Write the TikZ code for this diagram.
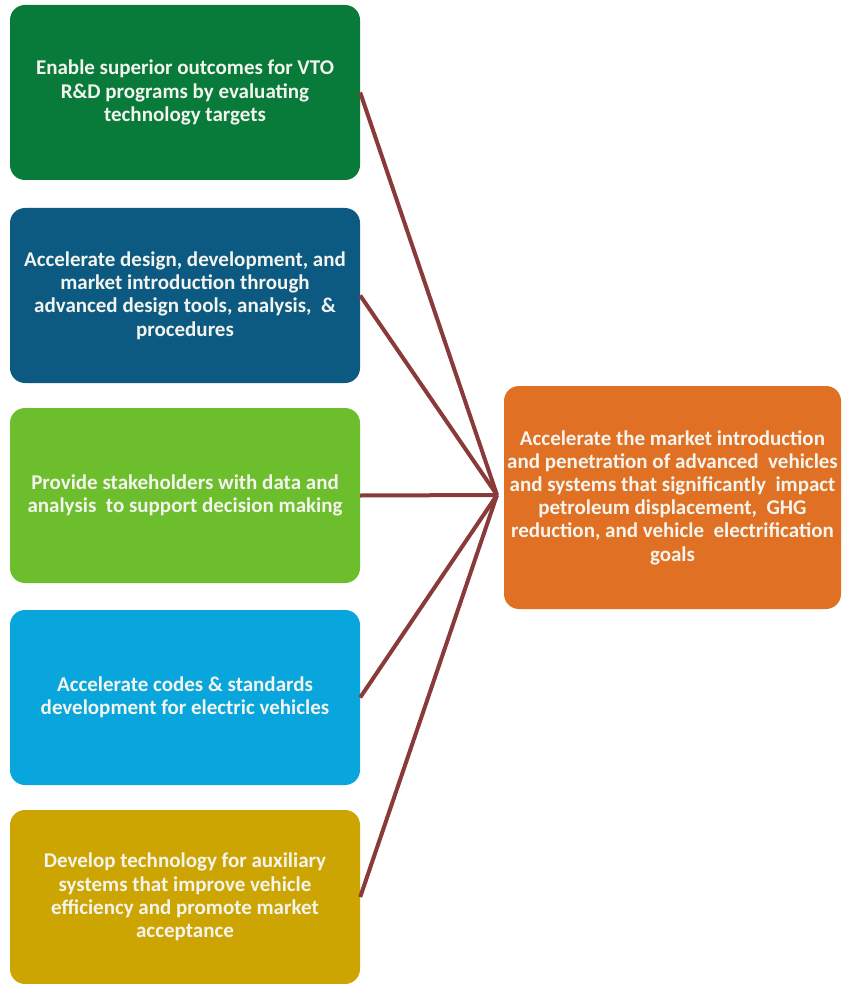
\documentclass[tikz,border=0pt]{standalone}
\usepackage{fontspec}
\setmainfont{Carlito}
\definecolor{goalgreen}{HTML}{087A3A}
\definecolor{goalnavy}{HTML}{0C5A82}
\definecolor{goallime}{HTML}{6DBE2C}
\definecolor{goalcyan}{HTML}{08A6DC}
\definecolor{goalgold}{HTML}{CDA503}
\definecolor{goalorange}{HTML}{E07124}
\definecolor{linkred}{HTML}{8B3A3A}
\definecolor{boxtext}{HTML}{F4F4EE}
\begin{document}
\begin{tikzpicture}[x=1pt,y=-1pt,
  goalbox/.style={rounded corners=15pt, minimum width=350pt, minimum height=175pt,
    align=center, text=boxtext, font=\bfseries\fontsize{21}{23.2}\selectfont, inner sep=0pt},
  link/.style={draw=linkred, line width=4pt}]
  \fill[white] (0,0) rectangle (841,984);
  \useasboundingbox (0,0) rectangle (841,984);

  \node[goalbox, fill=goalgreen] (b1) at (185,92.5)
    {Enable superior outcomes for VTO\\R\&D programs by evaluating\\technology targets};
  \node[goalbox, fill=goalnavy] (b2) at (185,295.5)
    {Accelerate design, development, and\\market introduction through\\advanced design tools, analysis,~ \&\\procedures};
  \node[goalbox, fill=goallime] (b3) at (185,495.5)
    {Provide stakeholders with data and\\analysis~ to support decision making};
  \node[goalbox, fill=goalcyan] (b4) at (185,697.5)
    {Accelerate codes \& standards\\development for electric vehicles};
  \node[goalbox, fill=goalgold, minimum height=174pt] (b5) at (185,897)
    {Develop technology for auxiliary\\systems that improve vehicle\\efficiency and promote market\\acceptance};

  \node[goalbox, fill=goalorange, minimum width=337pt, minimum height=223pt] (main) at (672.5,497.5)
    {Accelerate the market introduction\\and penetration of advanced~ vehicles\\and systems that significantly~ impact\\petroleum displacement,~ GHG\\reduction, and vehicle~ electrification\\goals};

  \coordinate (hub) at (497,495);
  \foreach \b in {b1,b2,b3,b4,b5}
    \draw[link] (\b.east) -- (hub);
\end{tikzpicture}
\end{document}
